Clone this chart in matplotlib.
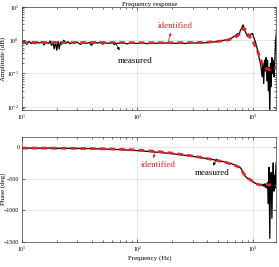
import matplotlib.pyplot as plt

plt.rcParams['font.family'] = ['Liberation Serif', 'DejaVu Serif']
plt.rcParams['mathtext.fontset'] = 'stix'

f_meas = [10, 10.5, 11, 11.5, 12, 12.5, 13, 13.5, 14, 15, 15.5, 16, 17, 17.5, 18, 18.5,
          19, 19.5, 20, 20.5, 21, 21.5, 22, 23, 24, 25, 26, 27, 28, 30, 32, 34, 36, 38,
          40, 42, 45, 48, 50, 53, 56, 60, 63, 66, 70, 75, 80, 90, 100, 110, 120, 140,
          160, 180, 200, 230, 260, 300, 350, 400, 450, 500, 550, 600, 650, 700, 740,
          760, 780, 800, 820, 840, 860, 880, 900, 930, 960, 990, 1010, 1050, 1090,
          1130, 1170, 1200, 1220, 1240, 1260, 1280, 1300, 1320, 1340, 1360, 1380,
          1400, 1420, 1440, 1460, 1480, 1500, 1520, 1540, 1560, 1580, 1600]
mag_meas = [0.85, 0.95, 0.75, 0.92, 0.8, 0.9, 0.78, 0.88, 0.82, 0.9, 0.72, 0.86, 0.8, 0.95,
            0.7, 0.88, 0.55, 0.9, 0.5, 0.92, 0.55, 0.88, 0.75, 1.0, 0.8, 0.9, 0.78, 0.86,
            0.82, 0.88, 0.75, 0.84, 0.8, 0.86, 0.7, 0.9, 0.82, 0.88, 0.76, 0.84, 0.8, 0.86,
            0.74, 0.82, 0.8, 0.85, 0.78, 0.82, 0.8, 0.84, 0.79, 0.82, 0.8, 0.83, 0.8, 0.82,
            0.8, 0.83, 0.82, 0.85, 0.88, 0.92, 0.98, 1.05, 1.15, 1.35, 1.6, 1.5, 2.0, 2.3,
            2.9, 2.2, 1.8, 1.5, 1.3, 1.25, 1.5, 1.6, 1.3, 0.9, 0.55, 0.3, 0.18, 0.08, 0.2,
            0.05, 0.25, 0.12, 0.3, 0.06, 0.25, 0.03, 0.15, 0.006, 0.2, 0.04, 0.3, 0.1,
            0.25, 0.08, 0.15, 0.5, 1.2, 1.8]
ph_meas = [-15, -10, -20, -12, -18, -14, -16, -13, -17, -15, -20, -14, -16, -12, -18, -15,
           -22, -14, -24, -15, -22, -16, -18, -15, -19, -17, -20, -18, -21, -19, -22, -21,
           -23, -22, -26, -24, -27, -28, -30, -30, -32, -34, -36, -37, -39, -42, -45, -50,
           -55, -60, -66, -76, -86, -95, -105, -118, -130, -145, -165, -182, -198, -213,
           -228, -245, -262, -285, -305, -318, -330, -360, -400, -440, -465, -480, -495,
           -510, -525, -545, -555, -575, -590, -600, -595, -610, -590, -620, -585, -640,
           -580, -650, -560, -900, -320, -1450, -600, -400, -1130, -500, -250, -700,
           -450, -650, -300, -220]

# identified model response
f_id = [10, 15, 20, 30, 50, 70, 100, 150, 200, 300, 400, 500, 600, 700, 760, 800, 830,
        860, 900, 950, 1000, 1050, 1100, 1150, 1200, 1250, 1300, 1400, 1500, 1600]
mag_id = [0.85, 0.85, 0.85, 0.85, 0.85, 0.85, 0.84, 0.84, 0.84, 0.85, 0.87, 0.92, 1.0,
          1.2, 1.5, 1.9, 2.3, 2.1, 1.6, 1.2, 0.92, 0.65, 0.46, 0.3, 0.2, 0.16, 0.14,
          0.13, 0.14, 0.15]
ph_id = [-15, -15, -17, -19, -25, -33, -45, -70, -95, -140, -180, -215, -250, -290, -320,
         -370, -420, -455, -490, -520, -545, -570, -590, -600, -600, -595, -595, -600,
         -605, -610]

red = '#e3242b'

fig = plt.figure(figsize=(2.79, 2.67), dpi=100)
ax1 = fig.add_axes([0.079, 0.588, 0.912, 0.386])
ax2 = fig.add_axes([0.079, 0.0955, 0.912, 0.391])

for ax in (ax1, ax2):
    ax.plot(f_meas, mag_meas if ax is ax1 else ph_meas, color='black', lw=0.9)
    ax.plot(f_id, mag_id if ax is ax1 else ph_id, color=red, lw=2.0, ls=(0, (2, 1.5)))
    ax.set_xscale('log')
    ax.set_xlim(10, 1600)
    ax.grid(True, which='major', color='#dcdcdc', lw=0.5)
    ax.tick_params(which='both', direction='in', top=True, right=True,
                   labelsize=4.2, length=2, width=0.4, pad=2)
    ax.tick_params(which='minor', length=1.2)
    for s in ax.spines.values():
        s.set_linewidth(0.5)
        s.set_color('#404040')

ax1.set_yscale('log')
ax1.set_ylim(0.008, 10)
ax1.set_ylabel('Amplitude (dB)', fontsize=5)
ax1.yaxis.set_label_coords(-0.063, 0.5)
ax1.set_title('Frequency response', fontsize=5, pad=1)

ax2.set_ylim(-1500, 160)
ax2.set_yticks([0, -500, -1000, -1500])
ax2.set_ylabel('Phase (deg)', fontsize=5)
ax2.yaxis.set_label_coords(-0.063, 0.5)
ax2.set_xlabel('Frequency (Hz)', fontsize=5, labelpad=1)

arrow = dict(arrowstyle='-|>', lw=0.5, mutation_scale=4, shrinkA=0, shrinkB=0)
ax1.text(214, 2.7, 'identified', fontsize=6.5, color=red, ha='center', va='center')
ax1.annotate('', xy=(195, 1.68), xytext=(184, 0.9),
             arrowprops=dict(arrow, color=red))
ax1.text(95, 0.24, 'measured', fontsize=6.5, color='black', ha='center', va='center')
ax1.annotate('', xy=(70, 0.5), xytext=(64, 0.85),
             arrowprops=dict(arrow, color='black'))

ax2.text(150, -283, 'identified', fontsize=6.5, color=red, ha='center', va='center')
ax2.annotate('', xy=(138, -175), xytext=(141, -70),
             arrowprops=dict(arrow, color=red))
ax2.text(439, -411, 'measured', fontsize=6.5, color='black', ha='center', va='center')
ax2.annotate('', xy=(451, -295), xytext=(485, -190),
             arrowprops=dict(arrow, color='black'))

fig.savefig('out.png', dpi=100)
